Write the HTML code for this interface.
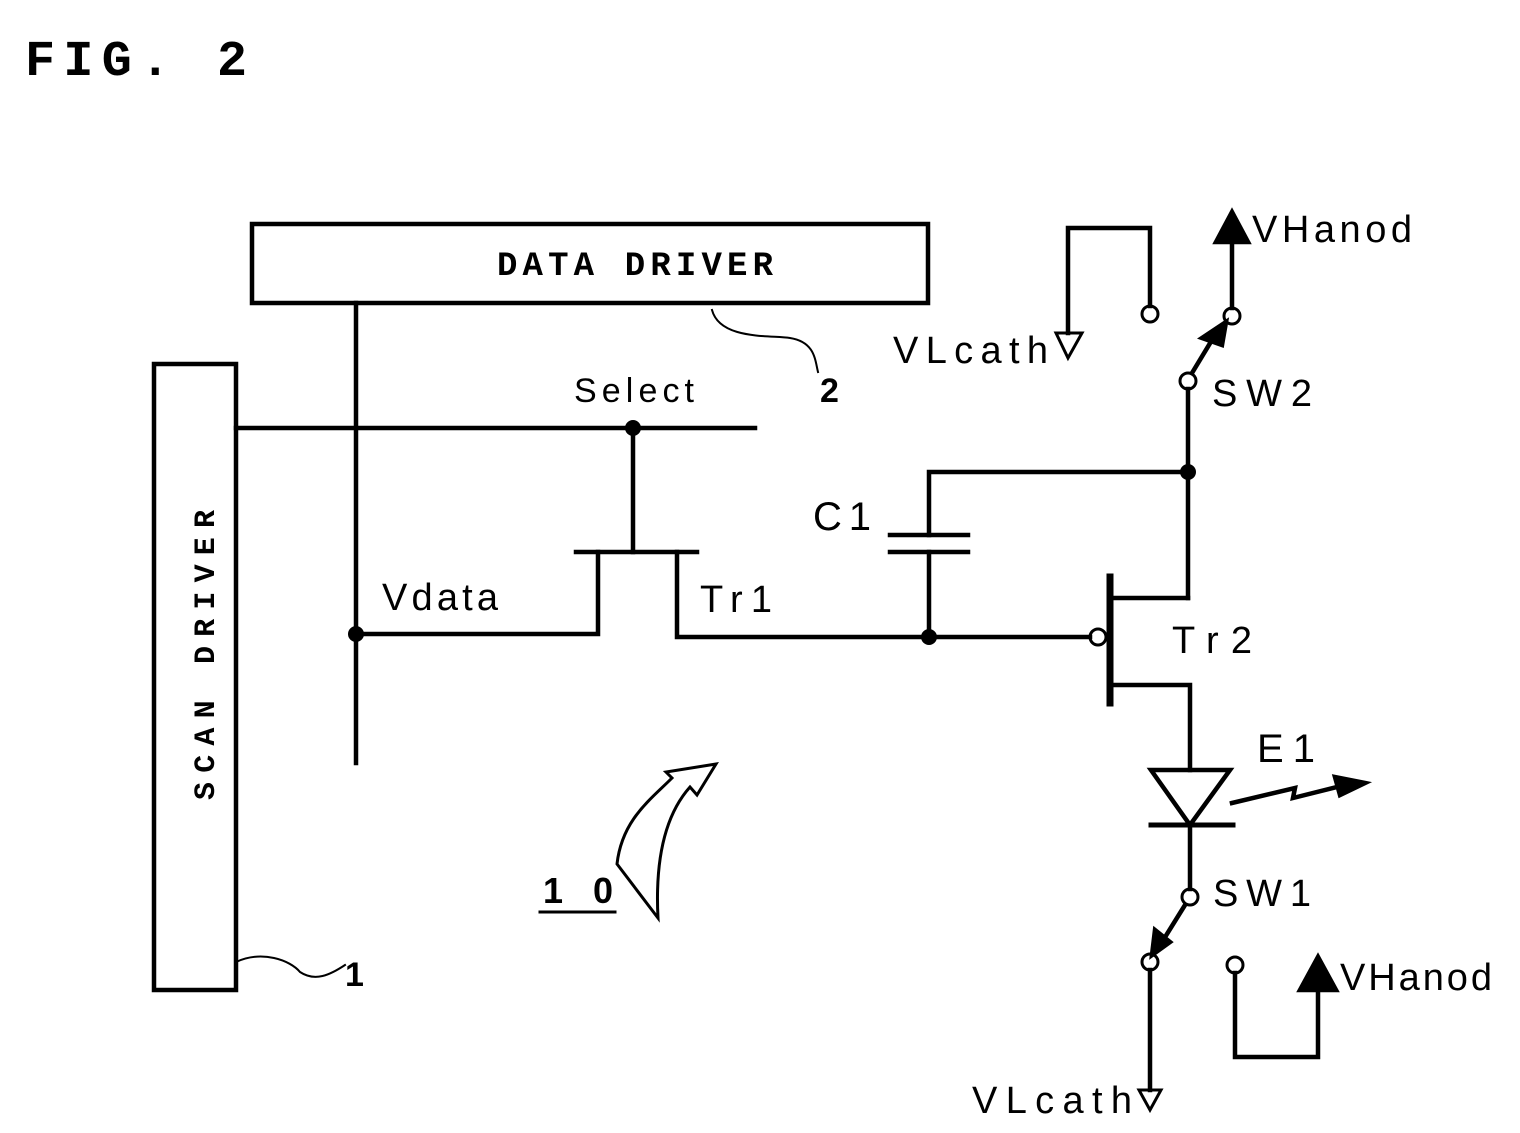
<!DOCTYPE html>
<html><head><meta charset="utf-8"><style>
html,body{margin:0;padding:0;background:#fff;}
svg{display:block;}
text{font-family:"Liberation Sans",sans-serif;fill:#000;}
.m{font-family:"Liberation Mono",monospace;font-weight:bold;}
</style></head><body>
<svg width="1520" height="1133" viewBox="0 0 1520 1133" xmlns="http://www.w3.org/2000/svg">
<g stroke="#000" stroke-width="4.5" fill="none" stroke-linecap="square">
<text x="25" y="75" class="m" font-size="50" stroke="none" textLength="222">FIG. 2</text>
<rect x="252" y="224" width="676" height="79"/>
<rect x="154" y="364" width="82" height="626"/>
<line x1="356" y1="303" x2="356" y2="763"/>
<line x1="236" y1="428" x2="755" y2="428"/>
<line x1="633" y1="428" x2="633" y2="552"/>
<line x1="576" y1="552" x2="697" y2="552"/>
<polyline points="598,552 598,634 356,634"/>
<polyline points="677,552 677,637 1090,637"/>
<polyline points="929,637 929,552"/>
<line x1="890" y1="552" x2="968" y2="552"/>
<line x1="890" y1="535" x2="968" y2="535"/>
<polyline points="929,535 929,472 1188,472"/>
<line x1="1188" y1="389" x2="1188" y2="598"/>
<line x1="1112" y1="598" x2="1188" y2="598"/>
<line x1="1110" y1="577" x2="1110" y2="703" stroke-width="7"/>
<circle cx="1098" cy="637" r="8" stroke-width="3"/>
<polyline points="1112,685 1190,685 1190,770"/>
<polygon points="1151,770 1230,770 1190,825"/>
<line x1="1151" y1="825" x2="1233" y2="825" stroke-width="5"/>
<line x1="1190" y1="825" x2="1190" y2="889"/>
<polyline points="1232,803 1295,788 1293,798 1345,785"/>
<polygon points="1365,783 1335,777 1340,795" fill="#000"/>
<circle cx="1190" cy="897" r="8" stroke-width="3"/>
<line x1="1185" y1="905" x2="1162" y2="942"/>
<polygon points="1152,955 1155,930 1170,942" fill="#000"/>
<circle cx="1150" cy="962" r="8" stroke-width="3"/>
<line x1="1150" y1="970" x2="1150" y2="1090"/>
<polygon points="1139,1090 1161,1090 1150,1110" stroke-width="3"/>
<circle cx="1235" cy="965" r="8" stroke-width="3"/>
<polyline points="1235,973 1235,1057 1318,1057 1318,990"/>
<polygon points="1300,990 1336,990 1318,957" fill="#000"/>
<circle cx="1188" cy="381" r="8" stroke-width="3"/>
<line x1="1192" y1="373" x2="1215" y2="335"/>
<polygon points="1226,322 1202,338 1222,345" fill="#000"/>
<circle cx="1232" cy="316" r="8" stroke-width="3"/>
<line x1="1232" y1="308" x2="1232" y2="240"/>
<polygon points="1216,242 1248,242 1232,212" fill="#000"/>
<circle cx="1150" cy="314" r="8" stroke-width="3"/>
<polyline points="1150,306 1150,228 1068,228 1068,333"/>
<polygon points="1056,333 1082,333 1068,358" stroke-width="3"/>
<path d="M712,310 C720,340 770,335 790,338 C815,342 815,360 818,372" stroke-width="2"/>
<path d="M236,962 C262,950 290,960 300,972 C315,982 330,975 345,965" stroke-width="2"/>
<line x1="540" y1="912" x2="615" y2="912" stroke-width="3"/>
<path d="M617,864 C622,820 650,800 672,778 L666,772 L716,764 L697,795 L690,787 C665,815 655,860 658,918 Z" stroke-width="3"/>
</g>
<g fill="#000">
<circle cx="356" cy="634" r="8"/>
<circle cx="633" cy="428" r="8"/>
<circle cx="929" cy="637" r="8"/>
<circle cx="1188" cy="472" r="8"/>
</g>
<text x="497" y="275" class="m" font-size="34" textLength="276">DATA DRIVER</text>
<text class="m" font-size="30" transform="translate(214,655) rotate(-90)" text-anchor="middle" textLength="290">SCAN DRIVER</text>
<text x="574" y="402" font-size="34" textLength="120">Select</text>
<text x="820" y="402" font-size="34" font-weight="bold">2</text>
<text x="382" y="610" font-size="38" textLength="116">Vdata</text>
<text x="700" y="612" font-size="38" textLength="72">Tr1</text>
<text x="813" y="530" font-size="40" textLength="58">C1</text>
<text x="1172" y="653" font-size="38" textLength="80">Tr2</text>
<text x="1212" y="406" font-size="38" textLength="100">SW2</text>
<text x="1213" y="906" font-size="38" textLength="98">SW1</text>
<text x="1257" y="762" font-size="40" textLength="58">E1</text>
<text x="1252" y="242" font-size="38" textLength="160">VHanod</text>
<text x="1340" y="990" font-size="38" textLength="152">VHanod</text>
<text x="893" y="363" font-size="38" textLength="155">VLcath</text>
<text x="972" y="1113" font-size="38" textLength="160">VLcath</text>
<text x="543" y="903" font-size="36" font-weight="bold" textLength="70">1 0</text>
<text x="345" y="986" font-size="34" font-weight="bold">1</text>
</svg>
</body></html>
